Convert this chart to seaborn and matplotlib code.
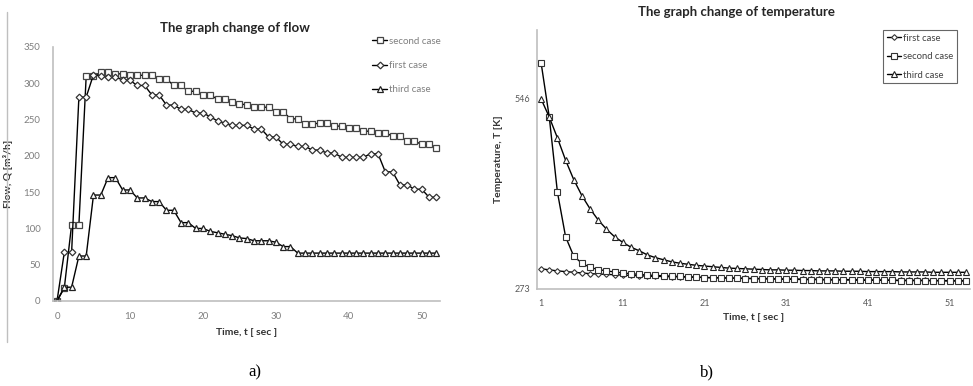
import numpy as np
import pandas as pd
import matplotlib
matplotlib.use("Agg")
import matplotlib.pyplot as plt
from matplotlib.lines import Line2D
import seaborn as sns

# ---------------- data ----------------
flow_time = list(range(0, 53))
flow_first = [0, 67, 67, 281, 281, 312, 310, 308, 308, 305,
              304, 297, 297, 284, 284, 270, 270, 264, 264, 259,
              259, 254, 248, 245, 242, 242, 242, 237, 237, 226,
              226, 216, 216, 213, 213, 208, 208, 204, 204, 198,
              198, 198, 198, 203, 203, 178, 178, 160, 160, 154,
              154, 143, 143]
flow_second = [0, 18, 105, 105, 310, 310, 315, 315, 313, 313,
               311, 311, 311, 311, 306, 306, 297, 297, 289, 289,
               284, 284, 278, 278, 274, 272, 270, 268, 267, 267,
               261, 261, 251, 251, 244, 244, 245, 245, 241, 241,
               238, 238, 234, 234, 232, 232, 227, 227, 220, 220,
               216, 216, 211]
flow_third = [0, 19, 19, 62, 62, 146, 146, 170, 170, 153,
              153, 142, 142, 137, 137, 125, 125, 108, 108, 100,
              100, 96, 94, 92, 90, 87, 86, 83, 83, 83,
              81, 75, 75, 66, 66, 66, 66, 66, 66, 66,
              66, 66, 66, 66, 66, 66, 66, 66, 66, 66,
              66, 66, 66]

temp_time = list(range(1, 54))
temp_first = [302, 300.5, 299, 298, 297, 296, 295, 294.5, 294, 293.5,
              293, 292.5, 292, 291.5, 291, 291, 290.5, 290.5, 290, 290,
              289.5, 289.5, 289, 289, 288.5, 288.5, 288, 288, 288, 287.5,
              287.5, 287.5, 287, 287, 287, 286.5, 286.5, 286.5, 286.5, 286,
              286, 286, 286, 285.5, 285.5, 285.5, 285.5, 285.5, 285, 285,
              285, 285, 285]
temp_second = [598, 520, 412, 348, 320, 310, 304, 301, 299, 297.5,
               296, 295, 294, 293, 292.5, 292, 291.5, 291, 290.5, 290,
               289.5, 289, 289, 288.5, 288.5, 288, 288, 287.5, 287.5, 287,
               287, 287, 286.5, 286.5, 286.5, 286, 286, 286, 286, 285.5,
               285.5, 285.5, 285.5, 285.5, 285, 285, 285, 285, 285, 285,
               284.5, 284.5, 284.5]
temp_third = [546, 520, 490, 458, 430, 407, 388, 372, 359, 348,
              340, 333, 328, 322, 318, 315, 312, 310, 308.5, 307,
              306, 305, 304, 303, 302.5, 302, 301.5, 301, 300.5, 300.5,
              300, 300, 299.5, 299.5, 299, 299, 299, 298.5, 298.5, 298.5,
              298, 298, 298, 298, 297.5, 297.5, 297.5, 297.5, 297, 297,
              297, 297, 297]

flow_yticks = [0, 50, 100, 150, 200, 250, 300, 350]
flow_xticks = [0, 10, 20, 30, 40, 50]
temp_yticks = [273, 546]
temp_xticks = [1, 11, 21, 31, 41, 51]

# ---------------- style ----------------
sns.set_style("white")
plt.rcParams['font.family'] = ['Lato', 'DejaVu Sans']

W, H = 973, 386
fig = plt.figure(figsize=(W / 100, H / 100), dpi=100)

def fx(px):
    return px / W

def fy(py):
    return 1 - py / H

spine_col = "#bfbfbf"
tick_col = "#7f7f7f"

# ---------------- left panel: flow ----------------
axL = fig.add_axes([fx(53), fy(301), fx(440 - 53), (301 - 47) / H])
mk = dict(color="black", lw=1.0, mfc="white", markeredgewidth=0.9)
sns.lineplot(x=flow_time, y=flow_second, ax=axL, marker="s", ms=4.8,
             mec="#444444", label="second case", **mk)
sns.lineplot(x=flow_time, y=flow_first, ax=axL, marker="D", ms=3.4,
             mec="#333333", label="first case", **mk)
sns.lineplot(x=flow_time, y=flow_third, ax=axL, marker="^", ms=4.0,
             mec="#222222", label="third case", **mk)
axL.set_xlim(-0.55, 52.5)
axL.set_ylim(0, 350)
axL.set_xticks(flow_xticks)
axL.set_yticks(flow_yticks)
for s in ["top", "right"]:
    axL.spines[s].set_visible(False)
for s in ["left", "bottom"]:
    axL.spines[s].set_color(spine_col)
    axL.spines[s].set_linewidth(1.2)
axL.tick_params(axis="both", length=0, labelsize=7, labelcolor=tick_col)
axL.tick_params(axis="x", pad=8)
axL.tick_params(axis="y", pad=9)
axL.set_xlabel("Time, t [ sec ]", fontsize=7.5, fontweight="bold", color="#333333", labelpad=5)
axL.set_ylabel("Flow, Q [m³/h]", fontsize=7.5, fontweight="bold", color="#333333", labelpad=8)
legL = axL.legend(loc="upper left", bbox_to_anchor=(fx(368), fy(33)),
                  bbox_transform=fig.transFigure, frameon=False,
                  fontsize=7, labelspacing=1.55, handlelength=1.6,
                  handletextpad=0.2, borderaxespad=0)
for t in legL.get_texts():
    t.set_color("#7f7f7f")
fig.text(fx(235), fy(28), "The graph change of flow", ha="center", va="center",
         fontsize=9.5, fontweight="bold", color="#262626")

# ---------------- right panel: temperature ----------------
axR = fig.add_axes([fx(537), fy(289), fx(970 - 537), (289 - 30) / H])
mk2 = dict(color="black", lw=1.0, mfc="white", markeredgewidth=0.8)
sns.lineplot(x=temp_time, y=temp_first, ax=axR, marker="D", ms=2.9,
             mec="#333333", label="first case", **mk2)
sns.lineplot(x=temp_time, y=temp_second, ax=axR, marker="s", ms=4.2,
             mec="#333333", label="second case", **mk2)
sns.lineplot(x=temp_time, y=temp_third, ax=axR, marker="^", ms=3.8,
             mec="#222222", label="third case", **mk2)
axR.set_xlim(0.5, 53.5)
axR.set_ylim(273, 645)
axR.set_xticks(temp_xticks)
axR.set_yticks(temp_yticks)
for s in ["top", "right"]:
    axR.spines[s].set_visible(False)
for s in ["left", "bottom"]:
    axR.spines[s].set_color(spine_col)
    axR.spines[s].set_linewidth(1.2)
axR.tick_params(axis="x", length=0, labelsize=6.5, labelcolor="#595959", pad=7)
axR.tick_params(axis="y", length=3, width=0.8, color=spine_col, labelsize=6.5,
                labelcolor="#595959", pad=2)
axR.set_xlabel("Time, t [ sec ]", fontsize=7.5, fontweight="bold", color="#333333", labelpad=4)
axR.set_ylabel("Temperature, T [K]", fontsize=7.5, fontweight="bold", color="#333333", labelpad=8)
legR = axR.legend(loc="upper left", bbox_to_anchor=(fx(883), fy(30)),
                  bbox_transform=fig.transFigure, frameon=True, fancybox=False,
                  fontsize=6.8, labelspacing=1.0, handlelength=1.5,
                  handletextpad=0.2, borderaxespad=0, borderpad=0.4)
legR.get_frame().set_edgecolor("#404040")
legR.get_frame().set_linewidth(0.8)
for t in legR.get_texts():
    t.set_color("#404040")
fig.text(fx(736), fy(12), "The graph change of temperature", ha="center", va="center",
         fontsize=9.5, fontweight="bold", color="#262626")

# ---------------- sub-labels and border ----------------
fig.text(fx(255), fy(372), "a)", ha="center", va="center", fontsize=12,
         family=["Liberation Serif", "DejaVu Serif"], color="black")
fig.text(fx(707), fy(372), "b)", ha="center", va="center", fontsize=12,
         family=["Liberation Serif", "DejaVu Serif"], color="black")
fig.add_artist(Line2D([fx(7), fx(7)], [fy(12), fy(342)], color="#bfbfbf",
                      lw=1.0, transform=fig.transFigure))

fig.savefig("out.png", dpi=100)
